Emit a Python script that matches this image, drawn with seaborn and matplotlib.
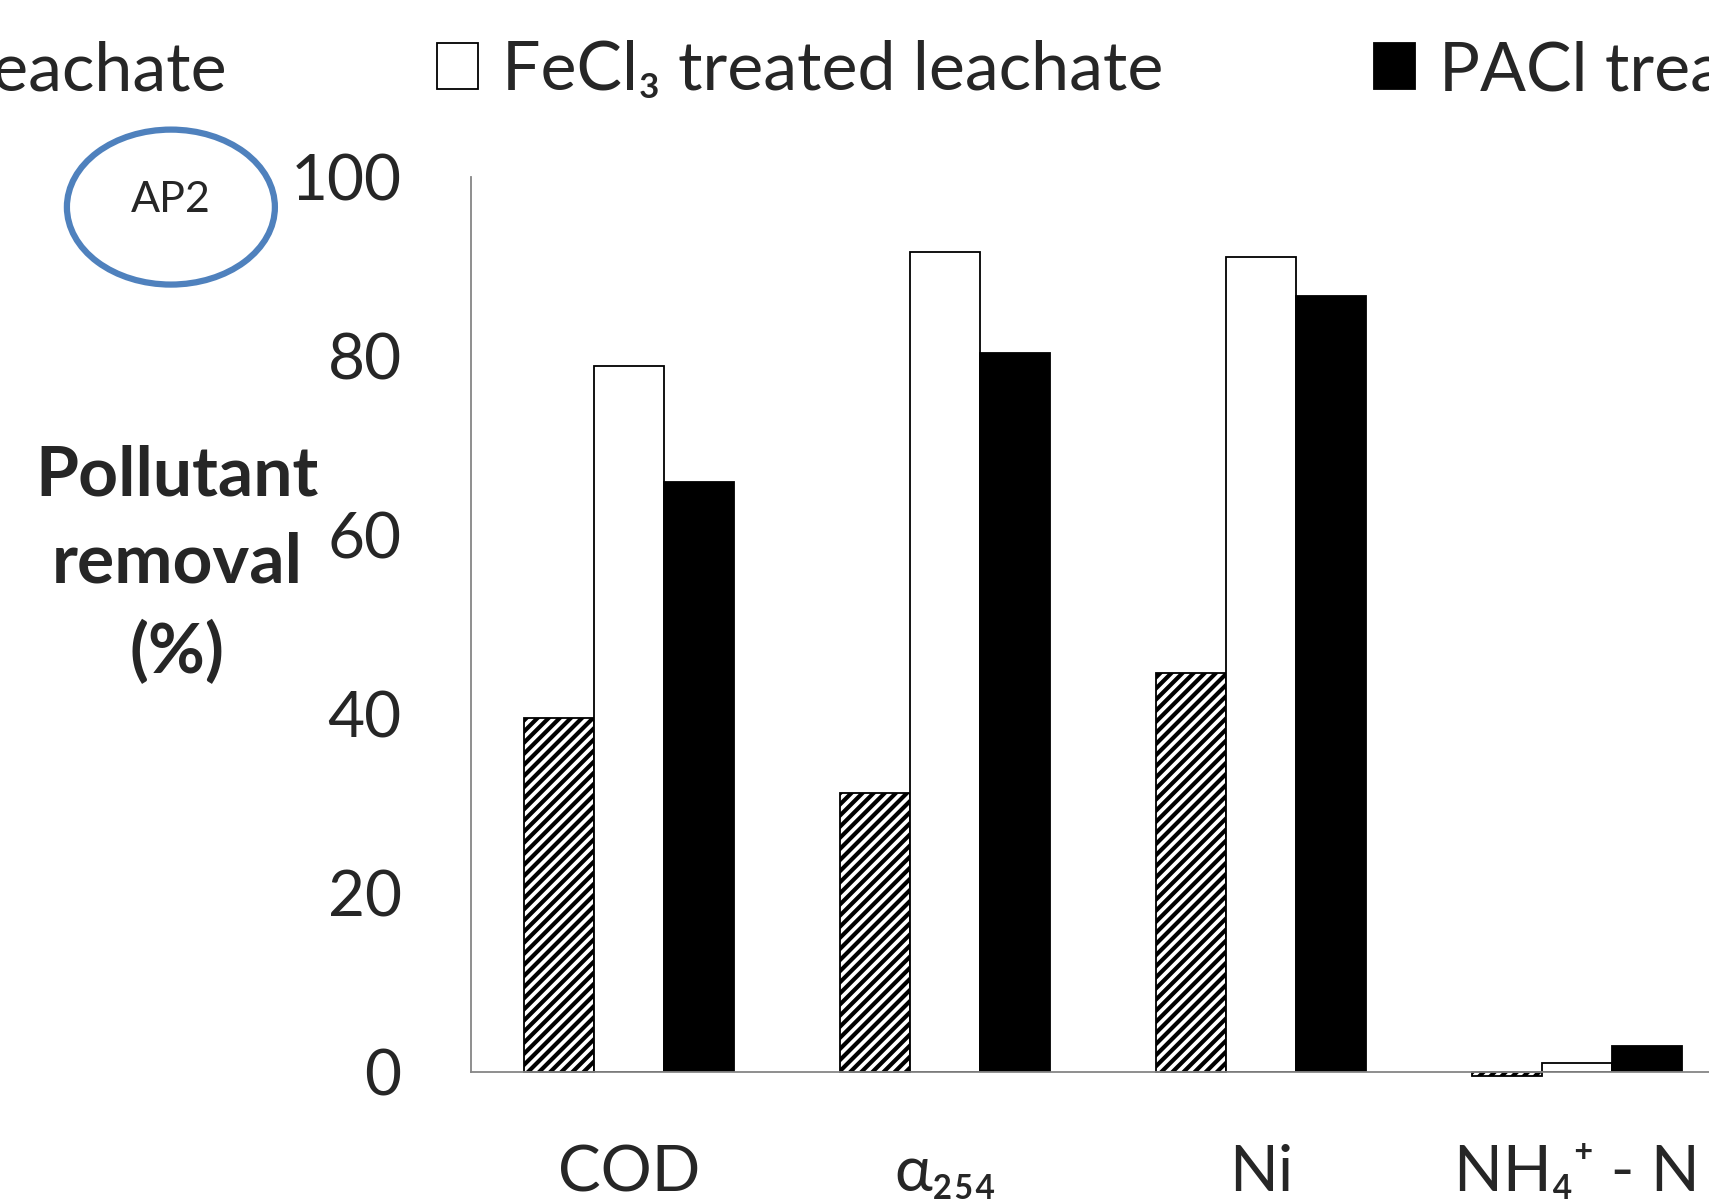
import numpy as np
import pandas as pd
import seaborn as sns
import matplotlib.pyplot as plt
from matplotlib.patches import Patch, Ellipse

# data
params = ["COD", "α₂₅₄", "Ni", "NH₄⁺ - N"]
samples = ["Raw leachate", "FeCl₃ treated leachate", "PACl treated leachate"]
raw = [39.5, 31.2, 44.6, -0.4]
fecl3 = [78.9, 91.6, 91.0, 1.0]
pacl = [65.9, 80.3, 86.7, 2.9]

df = pd.DataFrame({
    "param": params * 3,
    "sample": np.repeat(samples, len(params)),
    "removal": raw + fecl3 + pacl,
})

sns.set_style("white")
plt.rcParams["font.family"] = ["Lato", "DejaVu Sans"]
plt.rcParams["hatch.linewidth"] = 3

grey = "#868686"
fig = plt.figure(figsize=(17.09, 12.04), dpi=100)
ax = fig.add_axes([0.2756, 0.1096, 0.7396, 0.7437])

sns.barplot(data=df, x="param", y="removal", hue="sample", ax=ax,
            palette=["white", "white", "black"], saturation=1, width=0.667,
            edgecolor="black", linewidth=1.3, legend=False)

# hatch the raw leachate bars
for bar in ax.containers[0]:
    bar.set_hatch("///")
    bar.set_clip_on(False)

ax.set_ylim(0, 100)
ax.set_xlim(-0.5, 3.5)
ax.set_yticks([0, 20, 40, 60, 80, 100])
ax.tick_params(axis="y", labelsize=46, length=17, width=1.3, color=grey, pad=33)
ax.tick_params(axis="x", labelsize=46, length=0, pad=52)
ax.set_xticks([-0.5, 0.5, 1.5, 2.5, 3.5], minor=True)
ax.tick_params(axis="x", which="minor", length=17, width=1.3, color=grey, direction="out")
ax.set_xlabel("")
ax.set_ylabel("")
for s in ["top", "right"]:
    ax.spines[s].set_visible(False)
for s in ["left", "bottom"]:
    ax.spines[s].set_color(grey)
    ax.spines[s].set_linewidth(1.3)

fig.text(0.1035, 0.531, "Pollutant\nremoval\n(%)", fontsize=50, fontweight="bold",
         ha="center", va="center", linespacing=1.48)

# AP2 marker
fig.add_artist(Ellipse((0.100, 0.828), 0.1217, 0.1287, transform=fig.transFigure,
                       facecolor="none", edgecolor="#4F81BD", linewidth=4.5))
fig.text(0.100, 0.834, "AP2", fontsize=31, ha="center", va="center")

handles = [Patch(facecolor="white", edgecolor="black", hatch="///", linewidth=1.3),
           Patch(facecolor="white", edgecolor="black", linewidth=1.3),
           Patch(facecolor="black", edgecolor="black", linewidth=1.3)]
leg = fig.legend(handles, samples, loc="center", bbox_to_anchor=(0.54, 0.941), ncol=3,
                 frameon=False, fontsize=49, handlelength=0.6, handleheight=0.65,
                 handletextpad=0.35, columnspacing=3.1)

# shift legend so the FeCl3 label starts where it does in the original
fig.canvas.draw()
tx = leg.get_texts()[1].get_window_extent().x0
shift = (502 - tx) / fig.bbox.width
leg.set_bbox_to_anchor((0.54 + shift, 0.941), transform=fig.transFigure)

fig.savefig("out.png", dpi=100)
